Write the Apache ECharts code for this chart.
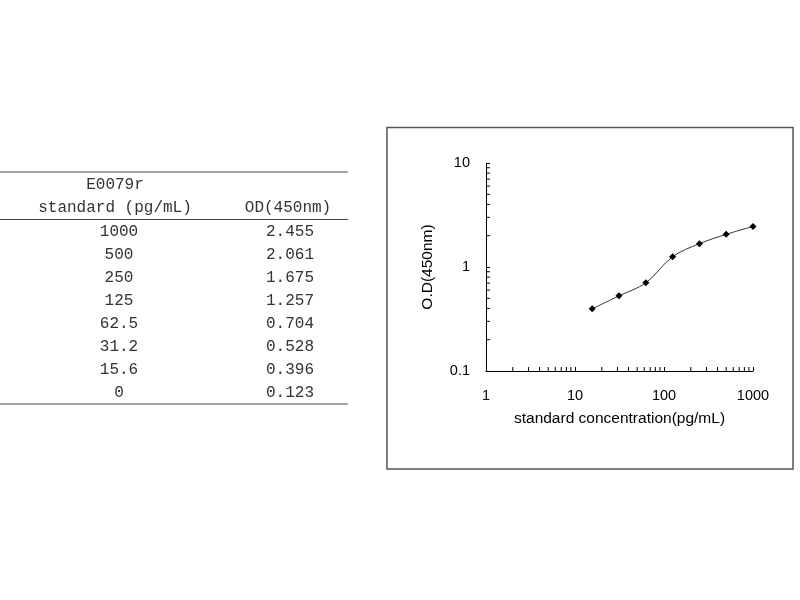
<!DOCTYPE html>
<html>
<head>
<meta charset="utf-8">
<script src="https://cdn.jsdelivr.net/npm/echarts@6/dist/echarts.min.js"></script>
<style>
  html, body { margin: 0; padding: 0; background: #fff; }
  #chart { width: 800px; height: 600px; }
</style>
</head>
<body>
<div id="chart"></div>
<script>
// standard curve data
var tableTitle = 'E0079r';
var colHeaders = ['standard (pg/mL)', 'OD(450nm)'];
var standards = ['1000', '500', '250', '125', '62.5', '31.2', '15.6', '0'];
var odValues = ['2.455', '2.061', '1.675', '1.257', '0.704', '0.528', '0.396', '0.123'];

// points on the log plot (0 can not be placed on a log axis)
var concentration = [15.6, 31.2, 62.5, 125, 250, 500, 1000];
var od450 = [0.396, 0.528, 0.704, 1.257, 1.675, 2.061, 2.455];

// minor tick values for the log axes
var xMinorTicks = [2, 3, 4, 5, 6, 7, 8, 9, 20, 30, 40, 50, 60, 70, 80, 90, 200, 300, 400, 500, 600, 700, 800, 900];
var yMinorTicks = [0.2, 0.3, 0.4, 0.5, 0.6, 0.7, 0.8, 0.9, 2, 3, 4, 5, 6, 7, 8, 9];

var chart = echarts.init(document.getElementById('chart'));

var tableFont = "16px 'Liberation Mono', monospace";
var col1X = 115, col2X = 288, rowStep = 23;

function cell(x, y, text) {
    return {
        type: 'text', x: x, y: y,
        style: { text: text, font: tableFont, fill: '#333', align: 'center', verticalAlign: 'middle', letterSpacing: 0.5 }
    };
}

// table built from the arrays above
var graphics = [];
[172, 219.5, 404].forEach(function (y) {
    graphics.push({ type: 'line', shape: { x1: 0, y1: y, x2: 348, y2: y }, style: { stroke: '#444', lineWidth: 1.2 } });
});
graphics.push(cell(col1X, 185, tableTitle));
graphics.push(cell(col1X, 208, colHeaders[0]));
graphics.push(cell(col2X, 208, colHeaders[1]));
for (var i = 0; i < standards.length; i++) {
    graphics.push(cell(col1X + 4, 232 + i * rowStep, standards[i]));
    graphics.push(cell(col2X + 2, 232 + i * rowStep, odValues[i]));
}
// frame round the plot
graphics.push({ type: 'rect', shape: { x: 387, y: 127.5, width: 406, height: 341.5 }, style: { fill: 'none', stroke: '#555', lineWidth: 1.5 } });

function tickRenderer(isX) {
    return function (params, api) {
        var p = isX ? api.coord([api.value(0), 0.1]) : api.coord([1, api.value(0)]);
        return {
            type: 'line',
            shape: isX ? { x1: p[0], y1: p[1], x2: p[0], y2: p[1] - 4 } : { x1: p[0], y1: p[1], x2: p[0] + 4, y2: p[1] },
            style: { stroke: '#000', lineWidth: 1 }
        };
    };
}

var labelFont = { fontFamily: 'Liberation Sans', fontSize: 14.5, color: '#000' };
var nameFont = { fontFamily: 'Liberation Sans', fontSize: 15.5, color: '#000' };

var option = {
    animation: false,
    graphic: graphics,
    grid: { left: 486, right: 47, top: 163, bottom: 229, containLabel: false },
    xAxis: {
        type: 'log',
        logBase: 10,
        min: 1,
        max: 1000,
        name: 'standard concentration(pg/mL)',
        nameLocation: 'middle',
        nameGap: 40,
        nameTextStyle: nameFont,
        axisLine: { lineStyle: { color: '#000', width: 1 } },
        axisTick: { inside: true, length: 4, lineStyle: { color: '#000' } },
        axisLabel: Object.assign({ margin: 17, formatter: function (v) { return String(v); } }, labelFont),
        splitLine: { show: false }
    },
    yAxis: {
        type: 'log',
        logBase: 10,
        min: 0.1,
        max: 10,
        name: 'O.D(450nm)',
        nameLocation: 'middle',
        nameGap: 50,
        nameRotate: 90,
        nameTextStyle: nameFont,
        axisLine: { lineStyle: { color: '#000', width: 1 } },
        axisTick: { inside: true, length: 4, lineStyle: { color: '#000' } },
        axisLabel: Object.assign({ margin: 16, formatter: function (v) { return String(v); } }, labelFont),
        splitLine: { show: false }
    },
    series: [{
        type: 'line',
        data: concentration.map(function (c, k) { return [c, od450[k]]; }),
        smooth: 0.35,
        symbol: 'diamond',
        symbolSize: 7,
        itemStyle: { color: '#000' },
        lineStyle: { color: '#333', width: 1 }
    }, {
        type: 'custom',
        renderItem: tickRenderer(true),
        data: xMinorTicks.map(function (v) { return [v]; }),
        encode: { x: 0 },
        clip: false,
        silent: true
    }, {
        type: 'custom',
        renderItem: tickRenderer(false),
        data: yMinorTicks.map(function (v) { return [v]; }),
        encode: { y: 0 },
        clip: false,
        silent: true
    }]
};
chart.setOption(option);
</script>
</body>
</html>
